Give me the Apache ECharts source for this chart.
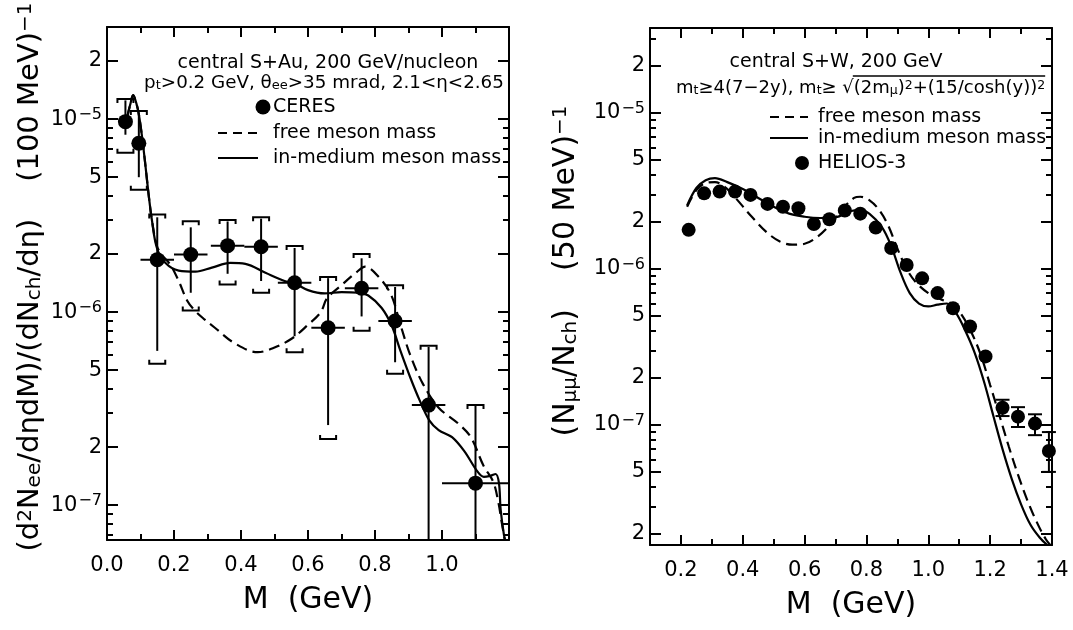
<!DOCTYPE html>
<html>
<head>
<meta charset="utf-8">
</head>
<body style="margin:0;background:#fff">
<div id="main" style="width:1073px;height:630px"></div>
<script src="https://cdn.jsdelivr.net/npm/echarts@6/dist/echarts.min.js"></script>
<script>
// ---------- left panel: CERES, central S+Au ----------
var ceresM      = [0.055, 0.095, 0.15, 0.25, 0.36, 0.46, 0.56, 0.66, 0.76, 0.86, 0.96, 1.10];
var ceresDM     = [0.02, 0.012, 0.05, 0.05, 0.05, 0.05, 0.05, 0.05, 0.05, 0.05, 0.05, 0.10];
var ceresY      = [9.7e-6, 7.5e-6, 1.87e-6, 1.99e-6, 2.21e-6, 2.18e-6, 1.42e-6, 8.3e-7, 1.33e-6, 9.0e-7, 3.3e-7, 1.3e-7];
var ceresStatLo = [8.3e-6, 5.0e-6, 6.3e-7, 1.26e-6, 1.58e-6, 1.45e-6, 7.5e-7, 2.6e-7, 9.5e-7, 5.5e-7, 6.6e-8, 6.6e-8];
var ceresStatHi = [1.25e-5, 1.07e-5, 3.1e-6, 2.75e-6, 2.95e-6, 3.05e-6, 2.15e-6, 1.5e-6, 1.9e-6, 1.35e-6, 6.6e-7, 3.3e-7];
var ceresSysLo  = [6.7e-6, 4.3e-6, 5.4e-7, 1.02e-6, 1.39e-6, 1.26e-6, 6.2e-7, 2.2e-7, 8.0e-7, 4.8e-7, null, null];
var ceresSysHi  = [1.27e-5, 1.1e-5, 3.2e-6, 2.96e-6, 3.0e-6, 3.1e-6, 2.2e-6, 1.52e-6, 2.0e-6, 1.38e-6, 6.7e-7, 3.3e-7];

var auFreeM = [0.06, 0.07, 0.078, 0.088, 0.095, 0.105, 0.114, 0.124, 0.134, 0.149, 0.164, 0.19, 0.214, 0.239, 0.262, 0.29, 0.322, 0.381, 0.45, 0.495, 0.552, 0.6, 0.638, 0.657, 0.70, 0.743, 0.771, 0.81, 0.848, 0.876, 0.905, 0.943, 0.99, 1.048, 1.086, 1.124, 1.153, 1.168, 1.178, 1.188];
var auFreeY = [1.02e-5, 1.2e-5, 1.33e-5, 1.2e-5, 1.06e-5, 8.0e-6, 5.9e-6, 4.1e-6, 3.0e-6, 2.2e-6, 1.98e-6, 1.75e-6, 1.45e-6, 1.15e-6, 1.02e-6, 9.2e-7, 8.3e-7, 6.9e-7, 6.2e-7, 6.5e-7, 7.3e-7, 8.6e-7, 1.0e-6, 1.18e-6, 1.38e-6, 1.6e-6, 1.72e-6, 1.53e-6, 1.23e-6, 8.6e-7, 6.0e-7, 4.25e-7, 3.2e-7, 2.65e-7, 2.25e-7, 1.6e-7, 1.32e-7, 1.04e-7, 8.2e-8, 6.5e-8];
var auMedM  = [0.06, 0.07, 0.078, 0.088, 0.095, 0.105, 0.114, 0.124, 0.134, 0.149, 0.174, 0.214, 0.264, 0.313, 0.368, 0.413, 0.473, 0.53, 0.556, 0.60, 0.65, 0.70, 0.75, 0.78, 0.82, 0.85, 0.876, 0.905, 0.933, 0.962, 0.99, 1.03, 1.067, 1.105, 1.125, 1.145, 1.16, 1.17, 1.175, 1.185, 1.19];
var auMedY  = [1.02e-5, 1.2e-5, 1.33e-5, 1.2e-5, 1.06e-5, 8.0e-6, 5.9e-6, 4.1e-6, 3.0e-6, 2.15e-6, 1.8e-6, 1.64e-6, 1.62e-6, 1.7e-6, 1.8e-6, 1.78e-6, 1.6e-6, 1.45e-6, 1.42e-6, 1.3e-6, 1.25e-6, 1.27e-6, 1.26e-6, 1.22e-6, 1.05e-6, 8.5e-7, 6.3e-7, 4.6e-7, 3.5e-7, 2.75e-7, 2.45e-7, 2.25e-7, 1.9e-7, 1.5e-7, 1.4e-7, 1.42e-7, 1.45e-7, 1.3e-7, 9.5e-8, 7.0e-8, 6.5e-8];

// ---------- right panel: HELIOS-3, central S+W ----------
var heliosM  = [0.225, 0.275, 0.325, 0.375, 0.425, 0.48, 0.53, 0.58, 0.63, 0.68, 0.73, 0.78, 0.83, 0.88, 0.93, 0.98, 1.03, 1.08, 1.135, 1.185, 1.24, 1.29, 1.345, 1.39];
var heliosY  = [1.78e-6, 3.05e-6, 3.13e-6, 3.13e-6, 2.98e-6, 2.61e-6, 2.5e-6, 2.45e-6, 1.94e-6, 2.08e-6, 2.37e-6, 2.26e-6, 1.84e-6, 1.36e-6, 1.06e-6, 8.7e-7, 7.0e-7, 5.6e-7, 4.27e-7, 2.75e-7, 1.29e-7, 1.13e-7, 1.02e-7, 6.8e-8];
var heliosLo = [null, null, null, null, null, null, null, null, null, null, null, null, null, null, null, null, null, null, null, null, 1.14e-7, 9.7e-8, 8.6e-8, 5.0e-8];
var heliosHi = [null, null, null, null, null, null, null, null, null, null, null, null, null, null, null, null, null, null, null, null, 1.45e-7, 1.30e-7, 1.17e-7, 9.0e-8];

var wFreeM = [0.22, 0.25, 0.28, 0.31, 0.35, 0.38, 0.43, 0.48, 0.52, 0.56, 0.60, 0.64, 0.68, 0.72, 0.76, 0.78, 0.81, 0.84, 0.87, 0.90, 0.93, 0.96, 1.00, 1.04, 1.08, 1.11, 1.14, 1.17, 1.20, 1.23, 1.26, 1.29, 1.32, 1.35, 1.38, 1.40];
var wFreeY = [2.5e-6, 3.2e-6, 3.55e-6, 3.6e-6, 3.25e-6, 2.8e-6, 2.15e-6, 1.7e-6, 1.5e-6, 1.43e-6, 1.45e-6, 1.6e-6, 1.9e-6, 2.4e-6, 2.85e-6, 2.9e-6, 2.75e-6, 2.4e-6, 1.9e-6, 1.35e-6, 1.0e-6, 8.2e-7, 7.0e-7, 6.4e-7, 5.9e-7, 5.0e-7, 3.9e-7, 2.8e-7, 1.8e-7, 1.15e-7, 7.3e-8, 4.8e-8, 3.3e-8, 2.4e-8, 1.85e-8, 1.65e-8];
var wMedM  = [0.22, 0.25, 0.28, 0.31, 0.35, 0.40, 0.45, 0.50, 0.55, 0.60, 0.65, 0.70, 0.75, 0.78, 0.81, 0.85, 0.88, 0.91, 0.94, 0.97, 1.00, 1.03, 1.06, 1.09, 1.12, 1.15, 1.18, 1.21, 1.24, 1.27, 1.30, 1.33, 1.36, 1.385];
var wMedY  = [2.55e-6, 3.3e-6, 3.7e-6, 3.82e-6, 3.6e-6, 3.25e-6, 2.85e-6, 2.5e-6, 2.26e-6, 2.16e-6, 2.12e-6, 2.14e-6, 2.35e-6, 2.38e-6, 2.25e-6, 1.85e-6, 1.4e-6, 9.5e-7, 7.0e-7, 6.0e-7, 5.75e-7, 5.9e-7, 6.0e-7, 5.2e-7, 4.0e-7, 2.9e-7, 1.9e-7, 1.15e-7, 7.0e-8, 4.5e-8, 3.1e-8, 2.3e-8, 1.9e-8, 1.7e-8];

// axis ranges and tick labels
var leftRange  = [6.6e-8, 3.0e-5];
var rightRange = [1.7e-8, 3.5e-5];
var leftYLabels  = [2e-5, 1e-5, 5e-6, 2e-6, 1e-6, 5e-7, 2e-7, 1e-7];
var rightYLabels = [2e-5, 1e-5, 5e-6, 2e-6, 1e-6, 5e-7, 2e-7, 1e-7, 5e-8, 2e-8];
var leftXLabels  = [0.0, 0.2, 0.4, 0.6, 0.8, 1.0];
var leftXMinor   = [0.1, 0.3, 0.5, 0.7, 0.9, 1.1];
var rightXLabels = [0.2, 0.4, 0.6, 0.8, 1.0, 1.2, 1.4];
var rightXMinor  = [0.3, 0.5, 0.7, 0.9, 1.1, 1.3];

var lg = function (v) { return v == null ? null : Math.log10(v); };
var FONT = 'DejaVu Sans';

function minorTicks(range) {
  var out = [], lo = lg(range[0]), hi = lg(range[1]);
  for (var e = -9; e <= -3; e++) {
    [3, 4, 6, 7, 8, 9].forEach(function (m) {
      var v = Math.log10(m) + e;
      if (v > lo && v < hi) out.push(v);
    });
  }
  return out;
}

function yLabel(v) {
  var e = Math.floor(v + 1e-6);
  var m = Math.round(Math.pow(10, v - e));
  if (m === 10) { e += 1; m = 1; }
  if (m === 1) return '10{e|' + String(e).replace('-', '\u2212') + '}';
  return String(m);
}

var axLine = {color: '#000', width: 2};

function yAxes(grid, range, labels) {
  var lo = lg(range[0]), hi = lg(range[1]);
  var major = labels.map(lg), minor = minorTicks(range);
  function one(pos, ticks, len, withLabel) {
    return {
      type: 'value', gridIndex: grid, position: pos, min: lo, max: hi,
      axisLine: {show: len > 8, onZero: false, lineStyle: axLine},
      axisTick: {show: true, inside: true, length: len, customValues: ticks, lineStyle: axLine},
      axisLabel: withLabel ? {
        show: true, customValues: major, margin: 5, formatter: yLabel,
        color: '#000', fontFamily: FONT, fontSize: 21,
        rich: {e: {fontFamily: FONT, fontSize: 16, verticalAlign: 'top', padding: [0, 0, 9, 1]}}
      } : {show: false},
      splitLine: {show: false}
    };
  }
  return [one('left', major, 11, true), one('left', minor, 6, false),
          one('right', major, 11, false), one('right', minor, 6, false)];
}

function xAxes(grid, min, max, labels, minor) {
  function one(pos, ticks, len, withLabel) {
    return {
      type: 'value', gridIndex: grid, position: pos, min: min, max: max,
      axisLine: {show: len > 8, onZero: false, lineStyle: axLine},
      axisTick: {show: true, inside: true, length: len, customValues: ticks, lineStyle: axLine},
      axisLabel: withLabel ? {
        show: true, customValues: labels, margin: 15, color: '#000', fontFamily: FONT, fontSize: 21,
        formatter: function (v) { return v.toFixed(1); }
      } : {show: false},
      splitLine: {show: false},
      name: withLabel ? 'M  (GeV)' : '', nameLocation: 'middle', nameGap: 45,
      nameTextStyle: {color: '#000', fontFamily: FONT, fontSize: 30}
    };
  }
  return [one('bottom', labels, 10, true), one('bottom', minor, 6, false),
          one('top', labels, 10, false), one('top', minor, 6, false)];
}

function errRender(bracketW, capW) {
  return function (params, api) {
    var x = api.value(0), dx = api.value(1), y = api.value(2);
    var sLo = api.value(3), sHi = api.value(4), bLo = api.value(5), bHi = api.value(6);
    var st = {stroke: '#000', lineWidth: 2, fill: null};
    var kids = [];
    var c = api.coord([x, y]);
    if (!isNaN(sLo) && !isNaN(sHi)) {
      var p1 = api.coord([x, sLo]), p2 = api.coord([x, sHi]);
      kids.push({type: 'line', shape: {x1: c[0], y1: p1[1], x2: c[0], y2: p2[1]}, style: st});
      if (capW) {
        [p1[1], p2[1]].forEach(function (yy) {
          kids.push({type: 'line', shape: {x1: c[0] - capW, y1: yy, x2: c[0] + capW, y2: yy}, style: st});
        });
      }
    }
    if (dx > 0) {
      var l = api.coord([x - dx, y]), r = api.coord([x + dx, y]);
      kids.push({type: 'line', shape: {x1: l[0], y1: c[1], x2: r[0], y2: c[1]}, style: st});
    }
    [[bHi, 4], [bLo, -4]].forEach(function (b) {
      if (isNaN(b[0]) || !bracketW) return;
      var yy = api.coord([x, b[0]])[1];
      kids.push({type: 'polyline', shape: {points: [[c[0] - bracketW, yy + b[1]], [c[0] - bracketW, yy], [c[0] + bracketW, yy], [c[0] + bracketW, yy + b[1]]]}, style: st});
    });
    return {type: 'group', children: kids};
  };
}

function pairs(xs, ys) { return xs.map(function (x, i) { return [x, lg(ys[i])]; }); }

var ceresErr = ceresM.map(function (x, i) {
  return [x, ceresDM[i], lg(ceresY[i]), lg(ceresStatLo[i]), lg(ceresStatHi[i]),
          ceresSysLo[i] == null ? '-' : lg(ceresSysLo[i]), lg(ceresSysHi[i])];
});
var heliosErr = [];
heliosM.forEach(function (x, i) {
  if (heliosLo[i] != null) heliosErr.push([x, 0, lg(heliosY[i]), lg(heliosLo[i]), lg(heliosHi[i]), '-', '-']);
});

var lineBase = {type: 'line', symbol: 'none', smooth: 0.35, z: 3};

// text width measuring for the sqrt overline in the right-hand cut formula
var mctx = document.createElement('canvas').getContext('2d');
function tw(parts) {
  return parts.reduce(function (s, p) { mctx.font = p[1] + 'px ' + FONT; return s + mctx.measureText(p[0]).width; }, 0);
}
var fSize = 18, fSmall = 12.5;
var cutX = 676;
var cutA = [['m', fSize], ['t', fSmall], ['\u22654(7\u22122y), m', fSize], ['t', fSmall], ['\u2265 \u221a', fSize]];
var cutB = [['(2m', fSize], ['\u03bc', fSmall], [')', fSize], ['2', fSmall], ['+(15/cosh(y))', fSize], ['2', fSmall]];
var cutBx = cutX + tw(cutA);
var cutBw = tw(cutB);

var chart = echarts.init(document.getElementById('main'), null, {renderer: 'canvas'});

function t(x, y, text, opt) {
  return {type: 'text', x: x, y: y, style: Object.assign({
    text: text, fill: '#000', fontFamily: FONT, fontSize: 19, align: 'left', verticalAlign: 'middle',
    rich: {
      s: {fontFamily: FONT, fontSize: 13, verticalAlign: 'bottom', lineHeight: 14},
      u: {fontFamily: FONT, fontSize: 13, verticalAlign: 'top', lineHeight: 14}
    }
  }, opt || {})};
}
function seg(x1, x2, y, dash, w) {
  return {type: 'line', shape: {x1: x1, y1: y, x2: x2, y2: y}, style: {stroke: '#000', lineWidth: w || 2.2, lineDash: dash || null}};
}
var titleRich = {
  s: {fontFamily: FONT, fontSize: 20, verticalAlign: 'bottom', lineHeight: 18},
  u: {fontFamily: FONT, fontSize: 20, verticalAlign: 'top', lineHeight: 18}
};
var smallRich = {
  s: {fontFamily: FONT, fontSize: fSmall, verticalAlign: 'bottom', lineHeight: 13},
  u: {fontFamily: FONT, fontSize: fSmall, verticalAlign: 'top', lineHeight: 13}
};

var yTitleL = t(30, 277, '(d{u|2}N{s|ee}/d\u03b7dM)/(dN{s|ch}/d\u03b7)    (100 MeV){u|\u22121}', {fontSize: 29, align: 'center', rich: titleRich});
var yTitleR = t(566, 271, '(N{s|\u03bc\u03bc}/N{s|ch})    (50 MeV){u|\u22121}', {fontSize: 30, align: 'center', rich: titleRich});
yTitleL.rotation = Math.PI / 2;
yTitleR.rotation = Math.PI / 2;

var option = {
  backgroundColor: '#fff',
  animation: false,
  grid: [
    {left: 107, top: 27, width: 402, height: 513, outerBoundsMode: 'none'},
    {left: 650, top: 28, width: 402, height: 517, outerBoundsMode: 'none'}
  ],
  xAxis: xAxes(0, 0, 1.2, leftXLabels, leftXMinor).concat(xAxes(1, 0.1, 1.4, rightXLabels, rightXMinor)),
  yAxis: yAxes(0, leftRange, leftYLabels).concat(yAxes(1, rightRange, rightYLabels)),
  series: [
    Object.assign({}, lineBase, {name: 'free meson mass', xAxisIndex: 0, yAxisIndex: 0, data: pairs(auFreeM, auFreeY),
      lineStyle: {color: '#000', width: 2.2, type: [11, 6]}}),
    Object.assign({}, lineBase, {name: 'in-medium meson mass', xAxisIndex: 0, yAxisIndex: 0, data: pairs(auMedM, auMedY),
      lineStyle: {color: '#000', width: 2.2}}),
    {type: 'custom', name: 'CERES errors', xAxisIndex: 0, yAxisIndex: 0, renderItem: errRender(8, 0),
      encode: {x: 0, y: 2}, data: ceresErr, z: 4},
    {type: 'scatter', name: 'CERES', xAxisIndex: 0, yAxisIndex: 0, symbolSize: 15, z: 5,
      itemStyle: {color: '#000', opacity: 1}, data: pairs(ceresM, ceresY)},

    Object.assign({}, lineBase, {name: 'free meson mass ', xAxisIndex: 4, yAxisIndex: 4, data: pairs(wFreeM, wFreeY),
      lineStyle: {color: '#000', width: 2.2, type: [11, 6]}}),
    Object.assign({}, lineBase, {name: 'in-medium meson mass ', xAxisIndex: 4, yAxisIndex: 4, data: pairs(wMedM, wMedY),
      lineStyle: {color: '#000', width: 2.2}}),
    {type: 'custom', name: 'HELIOS-3 errors', xAxisIndex: 4, yAxisIndex: 4, renderItem: errRender(0, 7),
      encode: {x: 0, y: 2}, data: heliosErr, z: 4},
    {type: 'scatter', name: 'HELIOS-3', xAxisIndex: 4, yAxisIndex: 4, symbolSize: 14, z: 5,
      itemStyle: {color: '#000', opacity: 1}, data: pairs(heliosM, heliosY)}
  ],
  graphic: [
    yTitleL,
    yTitleR,
    // left annotations + legend
    t(328, 63, 'central S+Au, 200 GeV/nucleon', {align: 'center'}),
    t(324, 83, 'p{s|t}>0.2 GeV, \u03b8{s|ee}>35 mrad, 2.1<\u03b7<2.65', {align: 'center', fontSize: 18.3}),
    {type: 'circle', shape: {cx: 263, cy: 107, r: 7.5}, style: {fill: '#000'}},
    t(273, 107, 'CERES'),
    seg(218, 258, 133, [9, 6]),
    t(273, 133, 'free meson mass'),
    seg(218, 258, 158),
    t(273, 158, 'in-medium meson mass'),
    // right annotations + legend
    t(836, 62, 'central S+W, 200 GeV', {align: 'center'}),
    t(cutX, 88, 'm{s|t}\u22654(7\u22122y), m{s|t}\u2265 \u221a', {fontSize: fSize, rich: smallRich}),
    t(cutBx, 88, '(2m{s|\u03bc}){u|2}+(15/cosh(y)){u|2}', {fontSize: fSize, rich: smallRich}),
    seg(cutBx - 1, cutBx + cutBw, 76, null, 1.6),
    seg(770, 808, 117, [9, 6]),
    t(818, 117, 'free meson mass'),
    seg(770, 808, 138),
    t(818, 138, 'in-medium meson mass'),
    {type: 'circle', shape: {cx: 802, cy: 163, r: 7}, style: {fill: '#000'}},
    t(818, 163, 'HELIOS-3')
  ]
};

chart.setOption(option);
</script>
</body>
</html>
